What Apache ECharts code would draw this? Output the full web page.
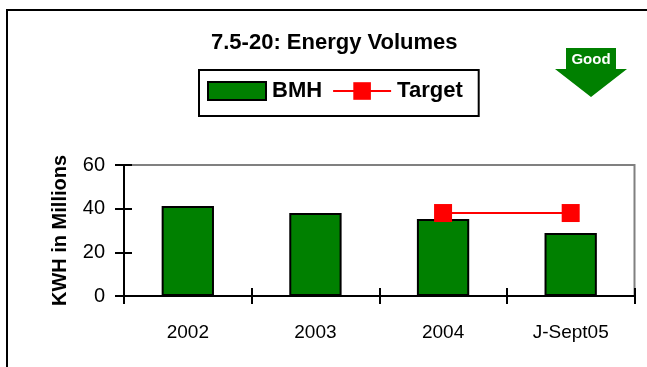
<!DOCTYPE html>
<html><head><meta charset="utf-8">
<style>html,body{margin:0;padding:0;background:#fff}#c{width:647px;height:367px}</style>
<script src="https://cdn.jsdelivr.net/npm/echarts@6/dist/echarts.min.js"></script>
</head><body><div id="c"></div>
<script>
const categories = ['2002', '2003', '2004', 'J-Sept05'];
const bmhValues = [41.2, 38, 35.3, 28.9];
const targetValues = [null, null, 38, 38];
const yTicks = { min: 0, max: 60, interval: 20 };
const fontFamily = '"Liberation Sans",Arial,sans-serif';

const chart = echarts.init(document.getElementById('c'), null, { renderer: 'canvas' });
const yBase = { type: 'value', position: 'left', ...yTicks, splitLine: { show: false } };
const xBase = { type: 'category', data: categories, position: 'bottom' };
chart.setOption({
  animation: false,
  backgroundColor: '#fff',
  title: {
    text: '7.5-20: Energy Volumes', left: 206, top: 27,
    textStyle: { fontFamily, fontSize: 22, fontWeight: 'bold', color: '#000' }
  },
  legend: {
    left: 199, top: 70, padding: [9, 16, 13, 8],
    itemGap: 10, itemWidth: 58, itemHeight: 22,
    borderColor: '#000', borderWidth: 2,
    textStyle: { fontFamily, fontSize: 22, fontWeight: 'bold', color: '#000', padding: [0, 0, 0, 1] },
    data: [{ name: 'BMH', icon: 'path://M0 0L0 0M0 22L0 22M0 2H58V20H0Z' }, { name: 'Target' }]
  },
  grid: { left: 124, right: 12.5, top: 165, bottom: 71, show: true, borderColor: '#808080', borderWidth: 2, backgroundColor: 'transparent' },
  xAxis: [
    { ...xBase,
      axisLine: { lineStyle: { color: '#000', width: 2 } },
      axisTick: { show: true, alignWithLabel: false, interval: 0, length: 8, lineStyle: { color: '#000', width: 2 } },
      axisLabel: { margin: 27, color: '#000', fontFamily, fontSize: 19 } },
    { ...xBase,
      axisLine: { show: true, lineStyle: { color: '#000', width: 2 } },
      axisTick: { show: true, alignWithLabel: false, interval: 0, inside: true, length: 8, lineStyle: { color: '#000', width: 2 } },
      axisLabel: { show: false } }
  ],
  yAxis: [
    { ...yBase,
      name: 'KWH in Millions', nameLocation: 'middle', nameGap: 54,
      nameTextStyle: { fontFamily, fontSize: 20, fontWeight: 'bold', color: '#000' },
      axisLine: { show: true, lineStyle: { color: '#000', width: 2 } },
      axisTick: { show: true, length: 9, lineStyle: { color: '#000', width: 2 } },
      axisLabel: { margin: 19, color: '#000', fontFamily, fontSize: 20 } },
    { ...yBase,
      axisLine: { show: true, lineStyle: { color: '#000', width: 2 } },
      axisTick: { show: true, inside: true, length: 8, lineStyle: { color: '#000', width: 2 } },
      axisLabel: { show: false } }
  ],
  series: [
    { name: 'BMH', type: 'bar', data: bmhValues, barWidth: '41%',
      itemStyle: { color: '#008000', borderColor: '#000', borderWidth: 2 } },
    { name: 'Target', type: 'line', data: targetValues, symbol: 'rect', symbolSize: 18,
      connectNulls: false, z: 5,
      lineStyle: { color: '#ff0000', width: 2 },
      itemStyle: { color: '#ff0000' } }
  ],
  graphic: [
    { type: 'rect', z: -1, silent: true,
      shape: { x: 7, y: 10, width: 700, height: 420 },
      style: { fill: 'none', stroke: '#000', lineWidth: 2 } },
    { type: 'polygon', silent: true,
      shape: { points: [[566, 48], [616, 48], [616, 69], [627, 69], [591, 97], [555, 69], [566, 69]] },
      style: { fill: '#008000' } },
    { type: 'text', silent: true, x: 591, y: 60,
      style: { text: 'Good', fill: '#fff', fontFamily, fontSize: 15, fontWeight: 'bold', align: 'center', verticalAlign: 'middle' } }
  ]
});
</script></body></html>
